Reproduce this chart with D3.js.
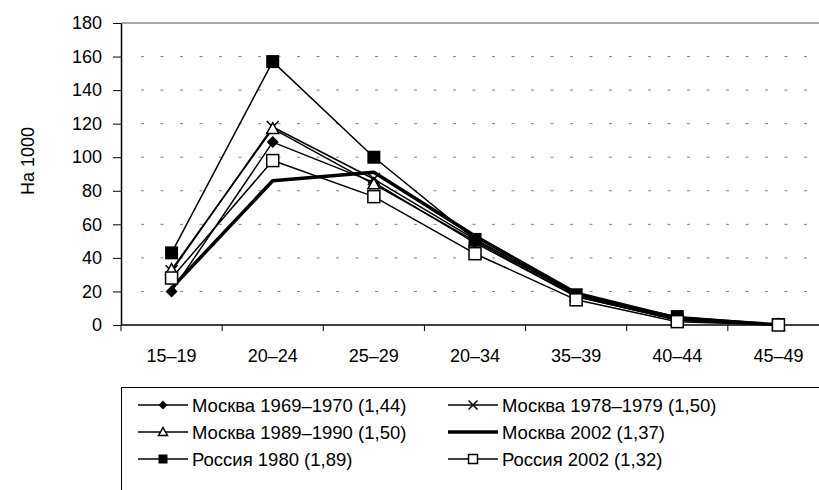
<!DOCTYPE html>
<html>
<head>
<meta charset="utf-8">
<script src="https://cdn.jsdelivr.net/npm/d3@7"></script>
<style>
  body { margin: 0; background: #fff; }
  svg { font-family: "Liberation Sans", Arial, sans-serif; }
</style>
</head>
<body>
<div id="chart"></div>
<script>
// age groups (the "20–34" label is kept as in the source)
var categories = ["15–19", "20–24", "25–29", "20–34", "35–39", "40–44", "45–49"];
var yTicks = [0, 20, 40, 60, 80, 100, 120, 140, 160, 180];

// births per 1000 women
var moscow1969 = [20, 109, 85, 49, 17, 3, 0.2];
var moscow1978 = [32, 118, 87, 51, 18, 3, 0.2];
var moscow1989 = [33, 117, 84, 50, 17, 3, 0.1];
var moscow2002 = [22, 86, 91, 53, 19, 4, 0.2];
var russia1980 = [43, 157, 100, 51, 18, 5, 0.3];
var russia2002 = [28, 98, 76.5, 42.5, 15, 2, 0];

var seriesNames = [
  "Москва 1969–1970 (1,44)", "Москва 1978–1979 (1,50)",
  "Москва 1989–1990 (1,50)", "Москва 2002 (1,37)",
  "Россия 1980 (1,89)", "Россия 2002 (1,32)"
];

var series = [
  { name: seriesNames[0], values: moscow1969, marker: "diamond", width: 1.5 },
  { name: seriesNames[1], values: moscow1978, marker: "cross", width: 1.5 },
  { name: seriesNames[2], values: moscow1989, marker: "triangle", width: 1.5 },
  { name: seriesNames[3], values: moscow2002, marker: "none", width: 3.5 },
  { name: seriesNames[4], values: russia1980, marker: "fsquare", width: 1.5 },
  { name: seriesNames[5], values: russia2002, marker: "osquare", width: 1.5 }
];

var w = 819, h = 490;
var plotLeft = 121, plotRight = 829, plotTop = 23, plotBottom = 325;

var svg = d3.select("#chart")
  .append("svg")
    .attr("width", w)
    .attr("height", h);

var xScale = d3.scaleBand()
  .domain(categories)
  .range([plotLeft, plotRight])
  .padding(0);

var yScale = d3.scaleLinear()
  .domain([0, 180])
  .range([plotBottom, plotTop]);

// dashed grid
svg.selectAll(".grid")
  .data(yTicks.filter(function(d) { return d > 0 && d < 180; }))
  .enter()
  .append("line")
    .attr("x1", plotLeft + 20)
    .attr("x2", plotRight)
    .attr("y1", function(d) { return yScale(d); })
    .attr("y2", function(d) { return yScale(d); })
    .attr("stroke", "#808080")
    .attr("stroke-width", 1)
    .attr("stroke-dasharray", "3,16.5");

// plot area top border
svg.append("line")
  .attr("x1", plotLeft).attr("x2", plotRight)
  .attr("y1", yScale(180)).attr("y2", yScale(180))
  .attr("stroke", "#8a8a8a")
  .attr("stroke-width", 1.5);

// y axis
var yAxis = d3.axisLeft(yScale)
  .tickValues(yTicks)
  .tickSize(8)
  .tickSizeOuter(0)
  .tickPadding(11);

svg.append("g")
  .attr("transform", "translate(" + plotLeft + ",0)")
  .call(yAxis)
  .call(function(g) {
    g.select(".domain").attr("stroke", "#000").attr("stroke-width", 1.5);
    g.selectAll(".tick line").attr("stroke", "#000");
    g.selectAll("text").attr("font-size", 18).attr("fill", "#000")
      .attr("font-family", "Liberation Sans, Arial, sans-serif");
  });

// x axis: labels at band centres, ticks at band edges
var xAxis = d3.axisBottom(xScale)
  .tickSize(0)
  .tickPadding(24);

svg.append("g")
  .attr("transform", "translate(0," + plotBottom + ")")
  .call(xAxis)
  .call(function(g) {
    g.select(".domain").remove();
    g.selectAll("text").attr("font-size", 18).attr("fill", "#000")
      .attr("font-family", "Liberation Sans, Arial, sans-serif");
  });

svg.append("line")
  .attr("x1", plotLeft).attr("x2", plotRight)
  .attr("y1", plotBottom).attr("y2", plotBottom)
  .attr("stroke", "#000").attr("stroke-width", 1.5);

svg.selectAll(".xtick")
  .data(categories)
  .enter()
  .append("line")
    .attr("x1", function(d) { return xScale(d); })
    .attr("x2", function(d) { return xScale(d); })
    .attr("y1", plotBottom)
    .attr("y2", plotBottom + 6)
    .attr("stroke", "#000");

// y title
svg.append("text")
  .attr("transform", "translate(34,161) rotate(-90)")
  .attr("text-anchor", "middle")
  .attr("font-size", 18)
  .text("На 1000");

var line = d3.line()
  .x(function(d, i) { return xScale(categories[i]) + xScale.bandwidth() / 2; })
  .y(function(d) { return yScale(d); });

function drawMarker(g, type, x, y, s) {
  if (type == "diamond") {
    g.append("path")
      .attr("d", "M" + x + "," + (y - s / 2) + "L" + (x + s / 2) + "," + y +
                 "L" + x + "," + (y + s / 2) + "L" + (x - s / 2) + "," + y + "Z")
      .attr("fill", "#000");
  } else if (type == "cross") {
    var r = s / 2;
    g.append("path")
      .attr("d", "M" + (x - r) + "," + (y - r) + "L" + (x + r) + "," + (y + r) +
                 "M" + (x - r) + "," + (y + r) + "L" + (x + r) + "," + (y - r))
      .attr("stroke", "#000").attr("stroke-width", 1.5);
  } else if (type == "triangle") {
    g.append("path")
      .attr("d", "M" + x + "," + (y - s / 2) + "L" + (x + s / 2) + "," + (y + s * 0.4) +
                 "L" + (x - s / 2) + "," + (y + s * 0.4) + "Z")
      .attr("fill", "#fff").attr("stroke", "#000").attr("stroke-width", 1.5);
  } else if (type == "fsquare") {
    g.append("rect")
      .attr("x", x - s / 2).attr("y", y - s / 2)
      .attr("width", s).attr("height", s)
      .attr("fill", "#000");
  } else if (type == "osquare") {
    g.append("rect")
      .attr("x", x - s / 2).attr("y", y - s / 2)
      .attr("width", s).attr("height", s)
      .attr("fill", "#fff").attr("stroke", "#000").attr("stroke-width", 1.5);
  }
}

// series lines and markers
series.forEach(function(s) {
  var g = svg.append("g");
  g.append("path")
    .datum(s.values)
    .attr("d", line)
    .attr("fill", "none")
    .attr("stroke", "#000")
    .attr("stroke-width", s.width)
    .attr("stroke-linejoin", "round");
  s.values.forEach(function(v, i) {
    var x = xScale(categories[i]) + xScale.bandwidth() / 2;
    drawMarker(g, s.marker, x, yScale(v), s.marker == "fsquare" ? 13 : 12);
  });
});

// legend
var legend = svg.append("g");
legend.append("rect")
  .attr("x", 121.5).attr("y", 387.5)
  .attr("width", 760).attr("height", 160)
  .attr("fill", "#fff")
  .attr("stroke", "#000")
  .attr("stroke-width", 1);

var colX = [138, 448];
var rowY = [405, 432, 459];

series.forEach(function(s, i) {
  var x0 = colX[i % 2];
  var y0 = rowY[Math.floor(i / 2)];
  var lg = legend.append("g");
  lg.append("line")
    .attr("x1", x0).attr("x2", x0 + 50)
    .attr("y1", y0).attr("y2", y0)
    .attr("stroke", "#000")
    .attr("stroke-width", s.width);
  drawMarker(lg, s.marker, x0 + 25, y0, 9);
  lg.append("text")
    .attr("x", x0 + 54)
    .attr("y", y0 + 6.5)
    .attr("font-size", 18.5)
    .text(s.name);
});
</script>
</body>
</html>
